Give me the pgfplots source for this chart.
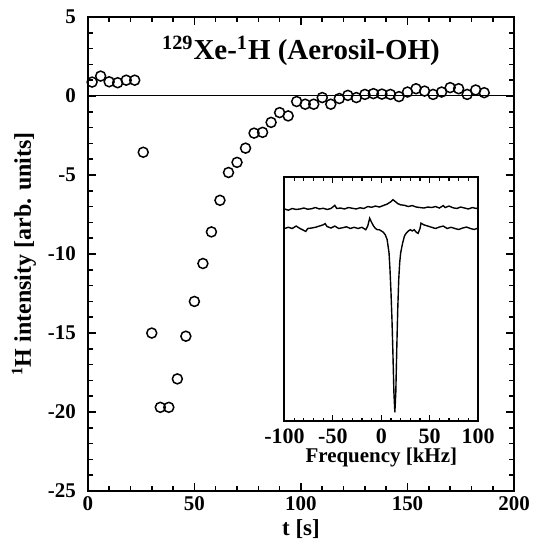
\documentclass[border=0pt]{standalone}
\usepackage{fontspec}
\setmainfont{Liberation Serif}
\usepackage{pgfplots}
\pgfplotsset{compat=1.18}

\begin{document}
\begin{tikzpicture}[font=\bfseries]
\begin{axis}[
  name=main,
  at={(0pt,0pt)}, anchor=south west,
  scale only axis,
  width=213.5pt, height=237.5pt,
  xmin=0, xmax=200, ymin=-25, ymax=5,
  xtick={0,50,100,150,200},
  ytick={-25,-20,-15,-10,-5,0,5},
  minor x tick num=4,
  minor y tick num=4,
  tick align=inside,
  major tick length=4pt,
  minor tick length=2.5pt,
  every tick/.style={black, line width=0.8pt},
  axis line style={line width=1.3pt},
  /pgf/number format/assume math mode=true,
  ticklabel style={font=\fontsize{10.5}{11}\selectfont\bfseries},
  yticklabel style={xshift=-2.5pt},
  xticklabel style={inner sep=0.5pt, yshift=-2pt},
  xlabel={t [s]},
  ylabel={\textsuperscript{1}H intensity [arb. units]},
  xlabel style={font=\fontsize{11.5}{12}\selectfont\bfseries, at={(axis description cs:0.5,0)}, anchor=base, yshift=-22pt, inner sep=0pt},
  ylabel style={font=\fontsize{12}{12}\selectfont\bfseries, yshift=-1pt},
  clip=false,
]
\addplot[black, line width=0.5pt, forget plot] coordinates {(0,0) (200,0)};
\addplot[only marks, mark=o, mark size=2.5pt, mark options={line width=0.75pt, black}] coordinates {
(2,0.88) (6,1.26) (10,0.90) (14,0.84) (18,1.00) (22,1.00)
(26,-3.56) (30,-15.0) (34,-19.7) (38,-19.7) (42,-17.9) (46,-15.2)
(50,-13.0) (54,-10.6) (58,-8.6) (62,-6.6) (66,-4.84) (70,-4.2)
(74,-3.3) (78,-2.35) (82,-2.3) (86,-1.67) (90,-1.05) (94,-1.26)
(98,-0.35) (102,-0.52) (106,-0.52) (110,-0.10) (114,-0.52) (118,-0.16)
(122,0.04) (126,-0.10) (130,0.10) (134,0.15) (138,0.12) (142,0.10)
(146,-0.04) (150,0.25) (154,0.46) (158,0.31) (162,0.10) (166,0.25)
(170,0.53) (174,0.46) (178,0.10) (182,0.38) (186,0.21)
};
\node[anchor=base, font=\fontsize{14.5}{15}\selectfont\bfseries] at (axis cs:100,2.3) {\textsuperscript{129}Xe-\textsuperscript{1}H (Aerosil-OH)};
\end{axis}

\begin{axis}[
  name=inset,
  at={(98.5pt,35pt)}, anchor=south west,
  scale only axis,
  width=97pt, height=122.2pt,
  xmin=-100, xmax=100, ymin=0, ymax=1,
  xtick={-100,-50,0,50,100},
  minor x tick num=4,
  ytick=\empty,
  tick align=inside,
  major tick length=3pt,
  minor tick length=1.8pt,
  every tick/.style={black, line width=0.6pt},
  axis line style={line width=1pt},
  axis background/.style={fill=white},
  /pgf/number format/assume math mode=true,
  ticklabel style={font=\fontsize{11}{11}\selectfont\bfseries},
  xticklabel style={yshift=-0.5pt},
  xlabel={Frequency [kHz]},
  xlabel style={font=\fontsize{10.5}{11}\selectfont\bfseries, yshift=5pt},
]
\addplot[black, line width=0.7pt] coordinates {
(-100,0.870) (-96,0.865) (-92,0.872) (-88,0.868) (-84,0.870) (-80,0.874)
(-76,0.869) (-72,0.871) (-68,0.876) (-64,0.870) (-60,0.873) (-56,0.868)
(-52,0.872) (-48,0.885) (-46,0.872) (-42,0.874) (-38,0.870) (-34,0.876)
(-30,0.873) (-26,0.870) (-22,0.875) (-18,0.872) (-14,0.880) (-10,0.877)
(-6,0.882) (-2,0.878) (2,0.884) (6,0.890) (10,0.900) (12,0.908)
(14,0.902) (17,0.892) (20,0.887) (24,0.885) (28,0.880) (32,0.884)
(36,0.878) (40,0.876) (44,0.874) (48,0.878) (52,0.876) (56,0.880)
(60,0.874) (64,0.884) (66,0.876) (70,0.882) (74,0.875) (78,0.872)
(82,0.878) (86,0.874) (90,0.870) (94,0.876) (98,0.872) (100,0.875)
};
\addplot[black, line width=0.7pt] coordinates {
(-100,0.790) (-96,0.795) (-92,0.790) (-88,0.800) (-84,0.790) (-80,0.782)
(-78,0.778) (-76,0.790) (-72,0.792) (-68,0.795) (-64,0.800) (-60,0.805)
(-58,0.810) (-56,0.798) (-52,0.792) (-48,0.800) (-44,0.790) (-40,0.793)
(-36,0.797) (-32,0.790) (-28,0.795) (-24,0.790) (-20,0.795) (-16,0.785)
(-14,0.800) (-12,0.832) (-10,0.815) (-8,0.800) (-6,0.790) (-4,0.785)
(-2,0.785) (0,0.780) (2,0.775) (4,0.765) (6,0.745) (8,0.690)
(9,0.620) (10,0.530) (11,0.420) (12,0.280) (13,0.120) (14,0.036)
(15,0.120) (16,0.300) (17,0.460) (18,0.580) (19,0.650) (20,0.690)
(22,0.730) (24,0.760) (26,0.772) (28,0.780) (30,0.785) (32,0.780)
(34,0.785) (36,0.775) (38,0.770) (40,0.790) (41,0.812) (44,0.805)
(48,0.800) (52,0.795) (56,0.790) (60,0.796) (64,0.800) (68,0.790)
(72,0.795) (76,0.790) (80,0.786) (84,0.792) (88,0.796) (92,0.790)
(96,0.786) (100,0.792)
};
\end{axis}

\pgfresetboundingbox
\path[use as bounding box] (-44pt,-24.5pt) rectangle (223pt,246pt);
\end{tikzpicture}
\end{document}
